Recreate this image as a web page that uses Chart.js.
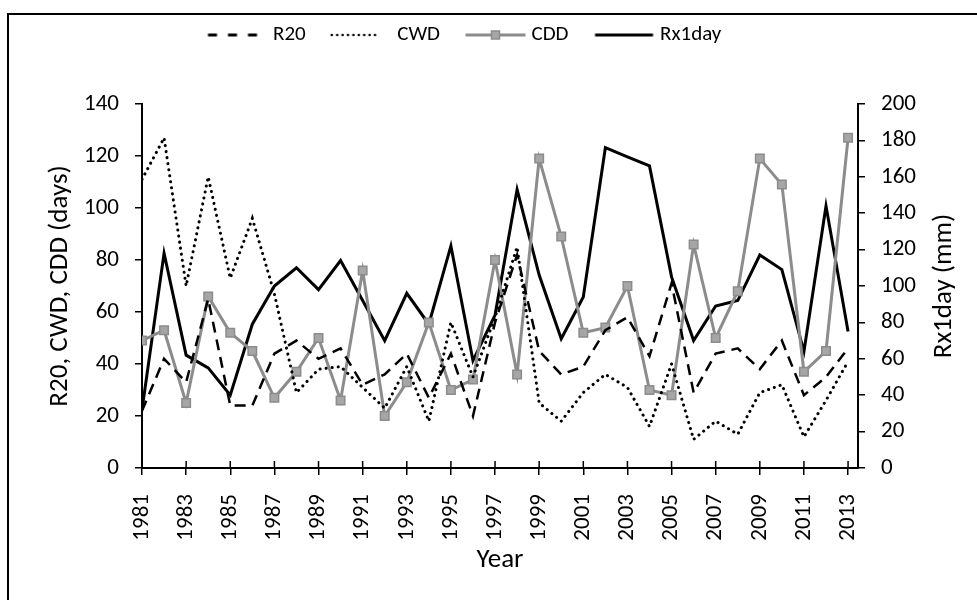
<!DOCTYPE html>
<html><head><meta charset="utf-8">
<script src="https://cdn.jsdelivr.net/npm/chart.js@4.4.1/dist/chart.umd.min.js"></script>
<style>
html,body{margin:0;padding:0;background:#fff;overflow:hidden;}
#wrap{position:relative;width:977px;height:600px;overflow:hidden;}
#frame{position:absolute;left:7px;top:13px;width:1100px;height:700px;border-left:2px solid #000;border-top:2px solid #000;}
canvas{position:absolute;left:0;top:0;}
</style></head><body>
<div id="wrap"><div id="frame"></div><canvas id="c" width="977" height="600"></canvas></div>
<script>
const years = [1981,1982,1983,1984,1985,1986,1987,1988,1989,1990,1991,1992,1993,1994,1995,1996,1997,1998,1999,2000,2001,2002,2003,2004,2005,2006,2007,2008,2009,2010,2011,2012,2013];
const yearTicks = [1981,1983,1985,1987,1989,1991,1993,1995,1997,1999,2001,2003,2005,2007,2009,2011,2013];
const r20 = [22,42,33,65,24,24,44,49,42,46,32,36,44,27,44,20,56,82,45,36,39,53,58,43,71,29,44,46,38,49,28,35,46];
const cwd = [111,127,70,112,73,96,67,29,38,39,31,23,39,18,56,35,58,85,25,18,29,36,31,16,40,11,18,13,29,32,12,26,41];
const cdd = [49,53,25,66,52,45,27,37,50,26,76,20,33,56,30,34,80,36,119,89,52,54,70,30,28,86,50,68,119,109,37,45,127];
const rx1day = [32,118,62,55,40,79,100,110,98,114,92,70,96,79,122,59,84,153,106,71,94,176,171,166,105,70,89,92,117,109,64,144,75];
const seriesNames = ['R20','CWD','CDD','Rx1day'];
const leftTitle = 'R20, CWD, CDD (days)';
const rightTitle = 'Rx1day (mm)';
const xTitle = 'Year';

const FONT = 'Carlito, Lato, sans-serif';
const FS_TICK = 23, FS_TITLE = 27, FS_LEG = 21;
const PL = 44, PR = 10, PB = 16;
const AREA_L = 142, AREA_R = 858, AREA_T = 104, AREA_B = 468;
const LEGEND_CY = 35, LEGEND_X = 202.5, LEG_PAD = 21;
Chart.defaults.font.family = FONT;
Chart.defaults.font.size = FS_TICK;
Chart.defaults.color = '#000';

const GREY_LINE = '#8c8c8c', GREY_FILL = '#a6a6a6';

function legendImg(kind){
  const c = document.createElement('canvas');
  c.width = 70; c.height = 14;
  const g = c.getContext('2d');
  const y = 7;
  g.strokeStyle = '#000';
  if (kind === 0){ g.lineWidth = 3; g.setLineDash([9,11]); g.beginPath(); g.moveTo(10.5,y); g.lineTo(61,y); g.stroke(); }
  else if (kind === 1){ g.lineWidth = 2.5; g.lineCap='round'; g.setLineDash([0.1,5.3]); g.beginPath(); g.moveTo(10,y); g.lineTo(57,y); g.stroke(); }
  else if (kind === 2){ g.strokeStyle = GREY_LINE; g.lineWidth = 3; g.beginPath(); g.moveTo(9.5,y); g.lineTo(69.5,y); g.stroke();
    g.fillStyle = GREY_FILL; g.lineWidth = 1.5; g.fillRect(35.5,3,8,8); g.strokeRect(35.5,3,8,8); }
  else { g.lineWidth = 3; g.beginPath(); g.moveTo(10.5,y); g.lineTo(68.5,y); g.stroke(); }
  return c;
}
const legendImgs = [0,1,2,3].map(legendImg);

const legendShift = { id:'legendShift', afterLayout(chart){
  const lg = chart.legend; if (!lg || !lg.lineWidths) return;
  const P = lg.options.labels.padding;
  const cur = (lg.left + P + lg.right - lg.lineWidths[0]) / 2;
  const d = LEGEND_X - cur; lg.left += d; lg.right += d;
}};

const extras = { id:'extras', afterDraw(chart){
  const ctx = chart.ctx, xs = chart.scales.x, yb = chart.chartArea.bottom;
  ctx.save();
  ctx.strokeStyle = '#000'; ctx.lineWidth = 1.5;
  xs.ticks.forEach(t => { const px = xs.getPixelForValue(t.value);
    ctx.beginPath(); ctx.moveTo(px, yb); ctx.lineTo(px, yb - 7); ctx.stroke(); });
  ctx.translate(944, (chart.chartArea.top + chart.chartArea.bottom) / 2);
  ctx.rotate(-Math.PI / 2);
  ctx.font = FS_TITLE + 'px ' + FONT; ctx.fillStyle = '#000';
  ctx.textAlign = 'center'; ctx.textBaseline = 'middle';
  ctx.fillText(rightTitle, 0, 0);
  ctx.restore();
}};

const axisGrid = { drawOnChartArea:false, tickLength:7, color:'#000', lineWidth:1.5 };
const axisBorder = { color:'#000', width:2 };

const chart = new Chart(document.getElementById('c'), {
  type: 'line',
  data: {
    labels: years,
    datasets: [
      { label: seriesNames[0], data: r20, yAxisID:'y', borderColor:'#000', borderWidth:2.5, borderDash:[11,7], pointRadius:0, tension:0 },
      { label: seriesNames[1], data: cwd, yAxisID:'y', borderColor:'#000', borderWidth:3, borderDash:[0.1,6], borderCapStyle:'round', pointRadius:0, tension:0 },
      { label: seriesNames[2], data: cdd, yAxisID:'y', borderColor:GREY_LINE, borderWidth:3, pointStyle:'rect', pointRadius:6, pointBackgroundColor:GREY_FILL, pointBorderColor:GREY_LINE, pointBorderWidth:1.5, tension:0 },
      { label: seriesNames[3], data: rx1day, yAxisID:'y2', borderColor:'#000', borderWidth:3, pointRadius:0, tension:0 }
    ]
  },
  options: {
    responsive:false, animation:false, devicePixelRatio:1,
    layout: { padding: { left:PL, right:PR, top:2, bottom:PB } },
    plugins: {
      tooltip: { enabled:false },
      title: { display:true, text:' ', font:{ size:10 }, padding:{ top:0, bottom:24 } },
      legend: { position:'top', weight:3000,
        labels: { usePointStyle:true, pointStyleWidth:60, boxHeight:14, padding:LEG_PAD, color:'#000', font:{ size:FS_LEG },
          generateLabels: ch => ch.data.datasets.map((ds,i) => ({ text: ds.label, pointStyle: legendImgs[i], fillStyle:'transparent', strokeStyle:'transparent', lineWidth:0, hidden:false, datasetIndex:i })) } }
    },
    scales: {
      x: { type:'linear', min:1981, max:2013.45,
        afterBuildTicks: s => { s.ticks = yearTicks.map(v => ({ value:v })); },
        ticks: { autoSkip:false, minRotation:90, maxRotation:90, padding:19, callback: v => String(v) },
        grid: axisGrid, border: axisBorder,
        title: { display:true, text:xTitle, font:{ size:FS_TITLE }, padding:{ top:0, bottom:8 } },
        afterFit: s => { s.height = 600 - PB - AREA_B; } },
      y: { position:'left', min:0, max:140, ticks:{ stepSize:20, padding:16 },
        grid: axisGrid, border: axisBorder,
        title: { display:true, text:leftTitle, font:{ size:FS_TITLE }, padding:{ top:0, bottom:0 } },
        afterFit: s => { s.width = AREA_L - PL; } },
      y2: { position:'right', min:0, max:200, ticks:{ stepSize:20, padding:16 },
        grid: axisGrid, border: axisBorder,
        afterFit: s => { s.width = 977 - PR - AREA_R; } }
    }
  },
  plugins: [legendShift, extras]
});

(function adjust(){
  for (let k = 0; k < 2; k++) {
    const lg = chart.legend;
    const legendCy = lg.top + LEG_PAD + FS_LEG / 2;
    const dT = LEGEND_CY - legendCy;
    const pad = chart.options.layout.padding;
    pad.top = Math.max(0, pad.top + dT);
    const newTop = chart.chartArea.top + dT;
    const tp = chart.options.plugins.title.padding;
    tp.bottom = Math.max(0, tp.bottom + (AREA_T - newTop));
    chart.update();
  }
})();
</script>
</body></html>
